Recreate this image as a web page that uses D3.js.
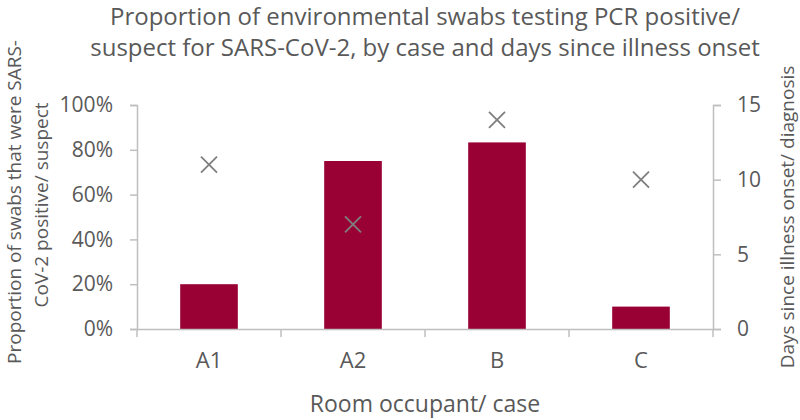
<html>
<script src="https://d3js.org/d3.v7.min.js"></script>
<head>
  <style>
    body { margin: 0; background: #fff; }
    text { font-family: "Open Sans", "Noto Sans", sans-serif; fill: #595959; }
  </style>
</head>
<body>
  <svg id="chart" width="800" height="420"></svg>
  <script>
    // data
    const cases = ['A1', 'A2', 'B', 'C']
    const proportionPositive = [0.20, 0.75, 0.833, 0.10]
    const daysSinceOnset = [11, 7, 14, 10]
    const leftTicks = [0, 0.2, 0.4, 0.6, 0.8, 1.0]
    const rightTicks = [0, 5, 10, 15]

    const svg = d3.select('#chart')
    const plotLeft = 137, plotRight = 713, plotTop = 105, plotBottom = 329
    const axisColor = '#bfbfbf'

    const xs = d3.scaleBand().domain(cases).range([plotLeft, plotRight])
    const yl = d3.scaleLinear().domain([0, 1]).range([plotBottom, plotTop])
    const yr = d3.scaleLinear().domain([0, 15]).range([plotBottom, plotTop])

    // bars
    const barW = xs.bandwidth() * 0.4
    svg.append('g')
      .selectAll('rect')
      .data(cases)
      .enter()
      .append('rect')
      .attr('x', (d) => xs(d) + (xs.bandwidth() - barW) / 2)
      .attr('y', (d, i) => yl(proportionPositive[i]))
      .attr('width', barW)
      .attr('height', (d, i) => plotBottom - yl(proportionPositive[i]))
      .attr('fill', '#990033')

    // left axis
    const gl = svg.append('g')
      .attr('transform', 'translate(' + plotLeft + ',0)')
      .call(d3.axisLeft(yl).tickValues(leftTicks).tickFormat(d3.format('.0%')).tickSize(7).tickPadding(17))
    // right axis
    const gr = svg.append('g')
      .attr('transform', 'translate(' + plotRight + ',0)')
      .call(d3.axisRight(yr).tickValues(rightTicks).tickSize(8).tickPadding(16))
    // bottom axis (ticks at band boundaries)
    const gb = svg.append('g')
      .attr('transform', 'translate(0,' + plotBottom + ')')
      .call(d3.axisBottom(xs).tickSize(0).tickPadding(23))
    svg.append('g')
      .selectAll('line')
      .data(cases.concat(['end']))
      .enter()
      .append('line')
      .attr('x1', (d) => d == 'end' ? plotRight : xs(d))
      .attr('x2', (d) => d == 'end' ? plotRight : xs(d))
      .attr('y1', plotBottom)
      .attr('y2', plotBottom + 8)
      .attr('stroke', axisColor)
      .attr('stroke-width', 1.5)

    ;[gl, gr, gb].forEach(function (g) {
      g.select('.domain').attr('stroke', axisColor).attr('stroke-width', 1.5)
      g.selectAll('.tick line').attr('stroke', axisColor).attr('stroke-width', 1.5)
      g.selectAll('.tick text').attr('font-size', 21).attr('fill', '#595959')
        .style('font-family', '"Open Sans", sans-serif')
    })
    gb.selectAll('.tick text').attr('font-size', 22)

    // day markers
    const s = 8
    svg.append('g')
      .selectAll('path')
      .data(cases)
      .enter()
      .append('path')
      .attr('d', function (d, i) {
        const cx = xs(d) + xs.bandwidth() / 2, cy = yr(daysSinceOnset[i])
        return 'M' + (cx - s) + ',' + (cy - s) + 'L' + (cx + s) + ',' + (cy + s) +
          'M' + (cx - s) + ',' + (cy + s) + 'L' + (cx + s) + ',' + (cy - s)
      })
      .attr('stroke', '#7f7f7f')
      .attr('stroke-width', 1.8)
      .attr('fill', 'none')

    // titles
    svg.append('text')
      .attr('x', 425).attr('y', 25)
      .attr('text-anchor', 'middle').attr('font-size', 24)
      .text('Proportion of environmental swabs testing PCR positive/')
    svg.append('text')
      .attr('x', 425).attr('y', 56)
      .attr('text-anchor', 'middle').attr('font-size', 24)
      .text('suspect for SARS-CoV-2, by case and days since illness onset')

    svg.append('text')
      .attr('transform', 'translate(21,202) rotate(-90)')
      .attr('text-anchor', 'middle').attr('font-size', 19)
      .text('Proportion of swabs that were SARS-')
    svg.append('text')
      .attr('transform', 'translate(48,205) rotate(-90)')
      .attr('text-anchor', 'middle').attr('font-size', 19)
      .text('CoV-2 positive/ suspect')

    svg.append('text')
      .attr('transform', 'translate(794,217) rotate(-90)')
      .attr('text-anchor', 'middle').attr('font-size', 19)
      .text('Days since illness onset/ diagnosis')

    svg.append('text')
      .attr('x', 425).attr('y', 412)
      .attr('text-anchor', 'middle').attr('font-size', 23)
      .text('Room occupant/ case')
  </script>
</body>
</html>
